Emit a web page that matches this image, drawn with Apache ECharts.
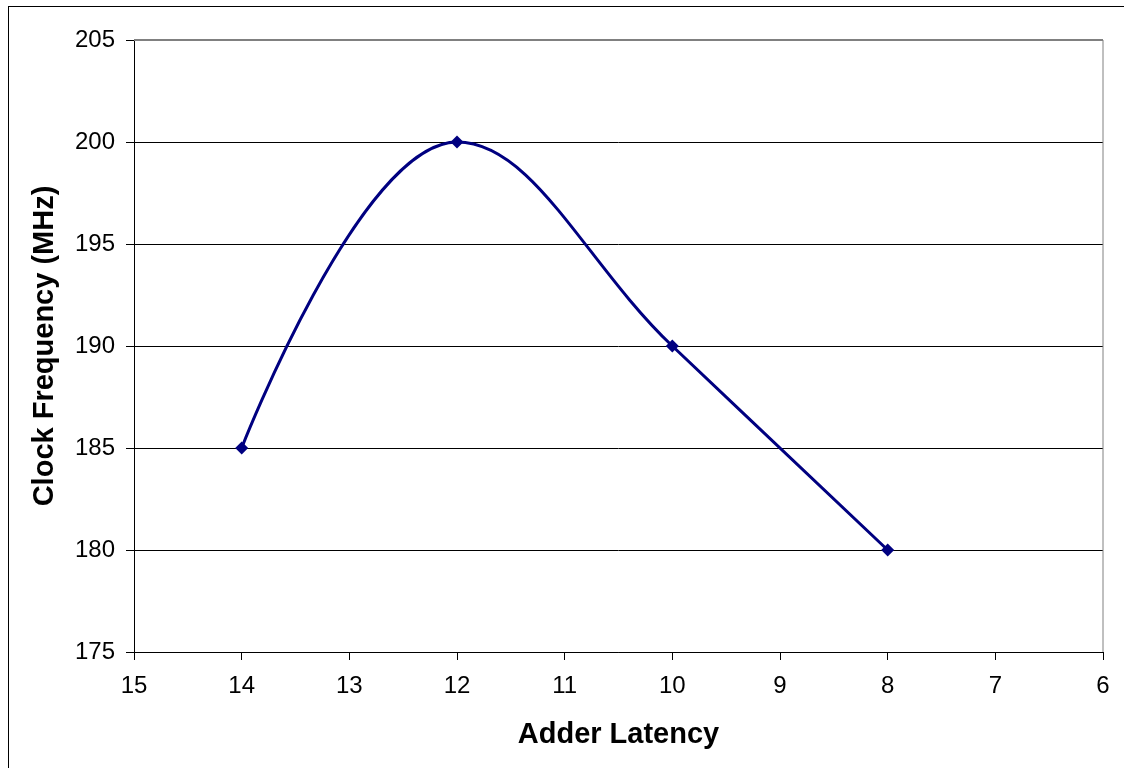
<!DOCTYPE html>
<html>
<head>
<meta charset="utf-8">
<script src="https://cdn.jsdelivr.net/npm/echarts@6/dist/echarts.min.js"></script>
<style>
  html, body { margin: 0; padding: 0; background: #fff; }
  #frame { position: absolute; left: 8px; top: 6px; width: 1130px; height: 780px; border: 1px solid #000; box-sizing: border-box; }
  #chart { position: absolute; left: 0; top: 0; width: 1124px; height: 768px; }
</style>
</head>
<body>
<div id="frame"></div>
<div id="chart"></div>
<script>
// adder latency vs clock frequency
var latency = [14, 12, 10, 8];
var freq = [185, 200, 190, 180];
var xTicks = [15, 14, 13, 12, 11, 10, 9, 8, 7, 6];
var yTicks = [175, 180, 185, 190, 195, 200, 205];

var points = latency.map(function (x, i) { return [x, freq[i]]; });

var chart = echarts.init(document.getElementById("chart"));
var font = "'Liberation Sans', Arial, sans-serif";

chart.setOption({
  animation: false,
  grid: { left: 134, right: 21, top: 40, bottom: 116 },
  xAxis: {
    type: "value",
    inverse: true,
    min: 6,
    max: 15,
    interval: 1,
    name: "Adder Latency",
    nameLocation: "middle",
    nameGap: 68,
    nameTextStyle: { fontFamily: font, fontSize: 29, fontWeight: "bold", color: "#000" },
    axisLine: { onZero: false, lineStyle: { color: "#000", width: 1 } },
    axisTick: { show: true, inside: false, length: 8, lineStyle: { color: "#000" } },
    axisLabel: { margin: 22, fontFamily: font, fontSize: 24, color: "#000" },
    splitLine: { show: false }
  },
  yAxis: {
    type: "value",
    min: 175,
    max: 205,
    interval: 5,
    name: "Clock Frequency (MHz)",
    nameLocation: "middle",
    nameGap: 75,
    nameTextStyle: { fontFamily: font, fontSize: 29, fontWeight: "bold", color: "#000" },
    axisLine: { show: true, onZero: false, lineStyle: { color: "#000", width: 1 } },
    axisTick: { show: true, inside: false, length: 8, lineStyle: { color: "#000" } },
    axisLabel: { margin: 19, fontFamily: font, fontSize: 24, color: "#000" },
    splitLine: { show: true, lineStyle: { color: "#000", width: 1 } }
  },
  series: [{
    type: "line",
    data: points,
    smooth: 0.4,
    symbol: "diamond",
    symbolSize: 13,
    lineStyle: { color: "#000080", width: 3 },
    itemStyle: { color: "#000080" }
  }]
});

// grey top gridline and right edge of the plot area
chart.setOption({
  graphic: [{
    type: "line",
    shape: { x1: 134, y1: 40, x2: 1103, y2: 40 },
    style: { stroke: "#808080", lineWidth: 2 },
    z: 10
  }, {
    type: "line",
    shape: { x1: 1103, y1: 40, x2: 1103, y2: 652 },
    style: { stroke: "#808080", lineWidth: 1 }
  }]
});
</script>
</body>
</html>
